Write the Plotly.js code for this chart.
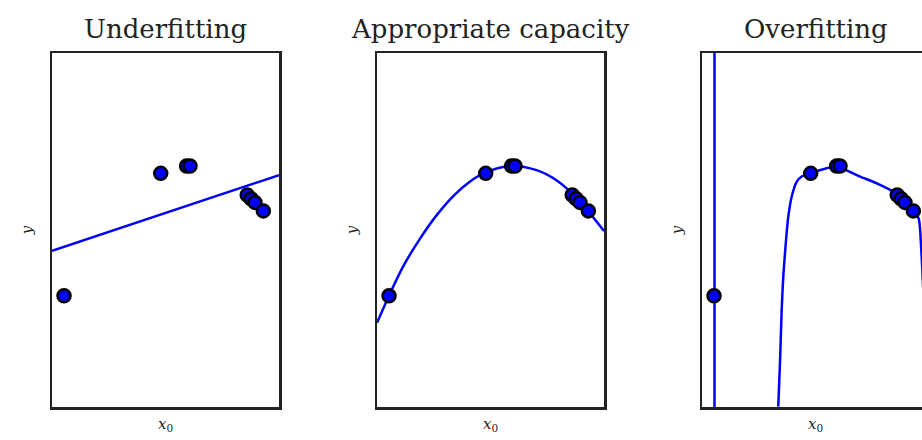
<!DOCTYPE html>
<html>
<head>
<meta charset="utf-8">
<script src="https://cdn.plot.ly/plotly-3.0.1.min.js"></script>
<style>
  html, body { margin: 0; padding: 0; overflow: hidden; background: #fff; }
  #grafico { width: 940px; height: 440px; }
</style>
</head>
<body>
<div id="grafico"></div>
<script>
// Pontos de treino (iguais nos tres paineis)
const xTrain = [0.053, 0.479, 0.593, 0.608, 0.860, 0.877, 0.894, 0.931];
const yTrain = [0.314, 0.660, 0.681, 0.681, 0.599, 0.588, 0.578, 0.554];

// Ajuste linear (underfitting)
const xLinear = [0, 1];
const yLinear = [0.441, 0.655];

// Ajuste quadratico (capacidade apropriada)
const xQuad = [0, 0.057, 0.116, 0.189, 0.263, 0.336, 0.410, 0.476, 0.593, 0.703, 0.792, 0.880, 1.0];
const yQuad = [0.238, 0.320, 0.398, 0.475, 0.542, 0.596, 0.637, 0.662, 0.681, 0.669, 0.640, 0.590, 0.497];

// Ajuste de grau alto (overfitting)
const xVert = [0.055, 0.055];
const yVert = [-0.2, 1.2];
const xOver = [0.336, 0.344, 0.351, 0.358, 0.369, 0.380, 0.395, 0.417, 0.439, 0.476, 0.593, 0.696, 0.770, 0.843, 0.877, 0.931, 0.955, 0.966, 0.974];
const yOver = [0.001, 0.133, 0.274, 0.368, 0.462, 0.537, 0.594, 0.636, 0.651, 0.660, 0.679, 0.651, 0.632, 0.608, 0.584, 0.554, 0.531, 0.444, 0.340];

const titles = ['Underfitting', 'Appropriate capacity', 'Overfitting'];

const lineStyle = { color: '#0000ff', width: 2.5 };
const markerStyle = { color: '#0000ff', size: 13, line: { color: '#000', width: 2.5 } };

function pontos(xa, ya) {
    return { x: xTrain, y: yTrain, xaxis: xa, yaxis: ya, mode: 'markers', type: 'scatter', marker: markerStyle };
}

const data = [
    { x: xLinear, y: yLinear, xaxis: 'x', yaxis: 'y', mode: 'lines', type: 'scatter', line: lineStyle },
    pontos('x', 'y'),
    { x: xQuad, y: yQuad, xaxis: 'x2', yaxis: 'y2', mode: 'lines', type: 'scatter', line: Object.assign({ shape: 'spline', smoothing: 1 }, lineStyle) },
    pontos('x2', 'y2'),
    { x: xVert, y: yVert, xaxis: 'x3', yaxis: 'y3', mode: 'lines', type: 'scatter', line: lineStyle },
    { x: xOver, y: yOver, xaxis: 'x3', yaxis: 'y3', mode: 'lines', type: 'scatter', line: Object.assign({ shape: 'spline', smoothing: 0.6 }, lineStyle) },
    pontos('x3', 'y3')
];

const W = 940, H = 440;
const panels = [52, 377, 702];
const panelW = 227;
const yDom = [(H - 407) / H, (H - 53) / H];

function eixoX(left) {
    return {
        domain: [left / W, (left + panelW) / W],
        range: [0, 1],
        showline: true, mirror: true, linecolor: '#222', linewidth: 2.5,
        showgrid: false, zeroline: false, ticks: '', showticklabels: false, fixedrange: true,
        title: { text: '<i>x</i><sub>0</sub>', font: { family: 'DejaVu Serif', size: 15, color: '#222' }, standoff: 10 }
    };
}

function eixoY(anchor) {
    return {
        domain: yDom,
        anchor: anchor,
        range: [0, 1],
        showline: true, mirror: true, linecolor: '#222', linewidth: 2.5,
        showgrid: false, zeroline: false, ticks: '', showticklabels: false, fixedrange: true,
        title: { text: '<i>y</i>', font: { family: 'DejaVu Serif', size: 15, color: '#222' }, standoff: 14 }
    };
}

const layout = {
    width: W,
    height: H,
    margin: { l: 0, r: 0, t: 0, b: 0 },
    showlegend: false,
    paper_bgcolor: '#fff',
    plot_bgcolor: '#fff',
    xaxis: Object.assign(eixoX(panels[0]), { anchor: 'y' }),
    yaxis: eixoY('x'),
    xaxis2: Object.assign(eixoX(panels[1]), { anchor: 'y2' }),
    yaxis2: eixoY('x2'),
    xaxis3: Object.assign(eixoX(panels[2]), { anchor: 'y3' }),
    yaxis3: eixoY('x3'),
    annotations: titles.map((t, i) => ({
        text: t,
        xref: 'paper', yref: 'paper',
        x: (panels[i] + panelW / 2) / W,
        y: (H - 29) / H,
        xanchor: 'center', yanchor: 'middle',
        showarrow: false,
        font: { family: 'DejaVu Serif', size: 26, color: '#222' }
    }))
};

Plotly.newPlot('grafico', data, layout, { displayModeBar: false, staticPlot: true });
</script>
</body>
</html>
